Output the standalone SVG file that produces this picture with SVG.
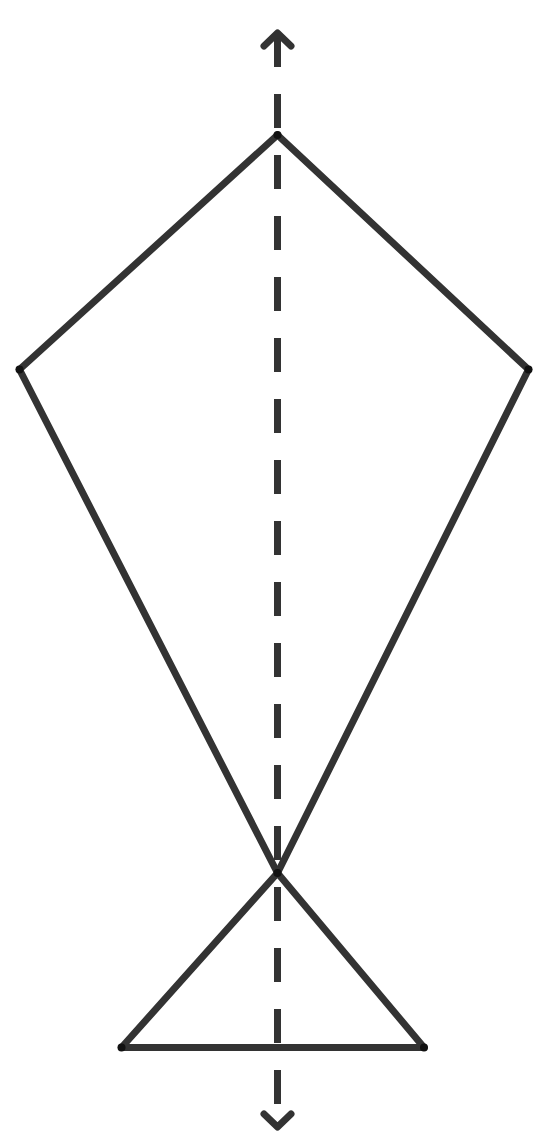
<svg xmlns="http://www.w3.org/2000/svg" width="555" height="1145" viewBox="0 0 555 1145">
<style>
.edge{fill:none;stroke:#333333;stroke-width:7;stroke-linecap:round;stroke-linejoin:round}
.axis{fill:none;stroke:#333333;stroke-width:7;stroke-dasharray:34 27}
.head{fill:none;stroke:#333333;stroke-width:7;stroke-linecap:round;stroke-linejoin:round}
.pt{fill:#111111}
</style>
<rect width="555" height="1145" fill="#ffffff"/>
<g id="connectors">
<line class="axis" x1="277.5" y1="33" x2="277.5" y2="1128"/>
<polyline class="head" points="264,46 277.5,33 291,46"/>
<polyline class="head" points="264,1114 277.5,1127 291,1114"/>
</g>
<g id="kite">
<polyline class="edge" points="19.5,369.5 277.5,135 528.5,369.5"/>
<line class="edge" x1="19.5" y1="369.5" x2="277.5" y2="873"/>
<line class="edge" x1="528.5" y1="369.5" x2="277.5" y2="873"/>
</g>
<g id="tail">
<polygon class="edge" points="277.5,873 121.5,1047.5 424,1047.5"/>
</g>
<g id="vertices">
<circle class="pt" cx="277.5" cy="135" r="4"/>
<circle class="pt" cx="19.5" cy="369.5" r="4"/>
<circle class="pt" cx="528.5" cy="369.5" r="4"/>
<circle class="pt" cx="277.5" cy="873" r="4"/>
<circle class="pt" cx="121.5" cy="1047.5" r="4"/>
<circle class="pt" cx="424" cy="1047.5" r="4"/>
</g>
</svg>
